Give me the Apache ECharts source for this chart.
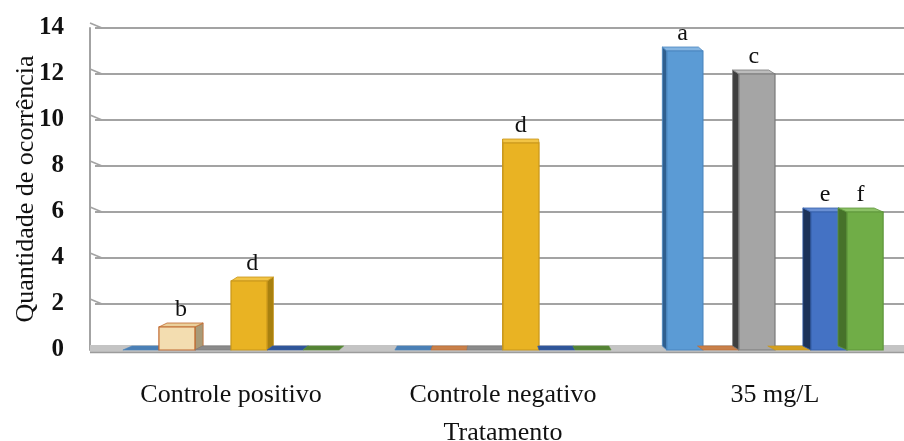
<!DOCTYPE html>
<html>
<head>
<meta charset="utf-8">
<script src="https://cdn.jsdelivr.net/npm/echarts@6/dist/echarts.min.js"></script>
<style>
  html, body { margin: 0; padding: 0; background: #ffffff; }
  #chart { width: 904px; height: 441px; }
</style>
</head>
<body>
<div id="chart"></div>
<script>
// Treatment groups on the x axis
const categories = ['Controle positivo', 'Controle negativo', '35 mg/L'];

// Occurrence counts per letter (one series per letter)
const seriesLetters = ['a', 'b', 'c', 'd', 'e', 'f'];
const valuesA = [0, 0, 13];
const valuesB = [1, 0, 0];
const valuesC = [0, 0, 12];
const valuesD = [3, 9, 0];
const valuesE = [0, 0, 6];
const valuesF = [0, 0, 6];

// Value axis ticks
const yMin = 0;
const yMax = 14;
const yStep = 2;

const FONT = '"Liberation Serif", "Times New Roman", serif';

// Face colours for the pseudo-3D columns: front, side, top, edge, floor strip
const palette = [
  { front: '#5b9bd5', side: '#2f5f8f', top: '#86b6e2', edge: '#4a86c0', strip: '#4a7fb5' },
  { front: '#f3ddb0', side: '#a89a78', top: '#ead09c', edge: '#c0682e', strip: '#c8804a' },
  { front: '#a5a5a5', side: '#3f3f3f', top: '#bcbcbc', edge: '#7a7a7a', strip: '#8a8a8a' },
  { front: '#e9b323', side: '#a8800f', top: '#f2c445', edge: '#c8961a', strip: '#d4a020' },
  { front: '#4472c4', side: '#1c3259', top: '#6a90d4', edge: '#3560ab', strip: '#2f5597' },
  { front: '#70ad47', side: '#46722a', top: '#8cc266', edge: '#5e963a', strip: '#548235' }
];

const allValues = [valuesA, valuesB, valuesC, valuesD, valuesE, valuesF];

// Fraction of a category band taken by one column
const SLOT_FRACTION = 0.1325;
const DEPTH_Y = -4;
const PERSPECTIVE = 0.025;

function columnRenderer(idx) {
  const col = palette[idx];
  const letter = seriesLetters[idx];
  return function (params, api) {
    const cat = api.value(0);
    const val = api.value(1);
    const base = api.coord([cat, 0]);
    const topPt = api.coord([cat, val]);
    const band = api.size([1, 0])[0];
    const slot = band * SLOT_FRACTION;
    const x0 = base[0] + (idx - 3) * slot;
    const x1 = x0 + slot;
    const cx = (x0 + x1) / 2;
    const cs = params.coordSys;
    const vanishX = cs.x + cs.width / 2;
    const dx = (vanishX - cx) * PERSPECTIVE;
    const dy = DEPTH_Y;
    const yb = base[1];
    const yt = topPt[1];

    if (val === 0) {
      return {
        type: 'polygon',
        shape: { points: [[x0, yb], [x1, yb], [x1 + dx, yb + dy], [x0 + dx, yb + dy]] },
        style: { fill: col.strip, stroke: col.edge, lineWidth: 0.6 }
      };
    }

    const ex = dx >= 0 ? x1 : x0;
    const children = [
      {
        type: 'polygon',
        shape: { points: [[ex, yt], [ex + dx, yt + dy], [ex + dx, yb + dy], [ex, yb]] },
        style: { fill: col.side, stroke: col.edge, lineWidth: 0.8 }
      },
      {
        type: 'polygon',
        shape: { points: [[x0, yt], [x1, yt], [x1 + dx, yt + dy], [x0 + dx, yt + dy]] },
        style: { fill: col.top, stroke: col.edge, lineWidth: 0.8 }
      },
      {
        type: 'rect',
        shape: { x: x0, y: yt, width: slot, height: yb - yt },
        style: { fill: col.front, stroke: col.edge, lineWidth: 1.2 }
      },
      {
        type: 'text',
        style: {
          text: letter,
          x: cx + dx / 2,
          y: yt + dy - 1,
          textAlign: 'center',
          textVerticalAlign: 'bottom',
          fill: '#111111',
          font: '24px ' + FONT
        }
      }
    ];
    return { type: 'group', children: children };
  };
}

// Floor band and the slanted joins of the gridlines into the back wall
function floorRenderer(params, api) {
  const cs = params.coordSys;
  const wallX = cs.x - 5;
  const base = api.coord([0, yMin]);
  const yb = base[1];
  const children = [
    {
      type: 'polygon',
      shape: { points: [[wallX, yb - 5], [cs.x + cs.width, yb - 5], [cs.x + cs.width, yb + 3], [wallX, yb + 3]] },
      style: { fill: '#c4c4c4' }
    },
    {
      type: 'line',
      shape: { x1: wallX, y1: yb + 2.5, x2: cs.x + cs.width, y2: yb + 2.5 },
      style: { stroke: '#9c9c9c', lineWidth: 1.5 }
    }
  ];
  for (let v = yMin + yStep; v <= yMax; v += yStep) {
    const p = api.coord([0, v]);
    children.push({
      type: 'line',
      shape: { x1: wallX, y1: p[1] - 5, x2: cs.x + 7, y2: p[1] },
      style: { stroke: '#a3a3a3', lineWidth: 1.6 }
    });
  }
  return { type: 'group', children: children };
}

const columnSeries = seriesLetters.map(function (letter, idx) {
  return {
    name: letter,
    type: 'custom',
    renderItem: columnRenderer(idx),
    encode: { x: 0, y: 1 },
    clip: false,
    z: 3,
    data: allValues[idx].map(function (v, i) { return [i, v]; })
  };
});

const chart = echarts.init(document.getElementById('chart'), null, { renderer: 'canvas' });

chart.setOption({
  backgroundColor: '#ffffff',
  animation: false,
  grid: { left: 95, top: 28, width: 816, bottom: 91, outerBoundsMode: 'none', containLabel: false },
  xAxis: {
    type: 'category',
    data: categories,
    name: 'Tratamento',
    nameLocation: 'middle',
    nameGap: 70,
    nameMoveOverlap: false,
    nameTextStyle: { fontFamily: FONT, fontSize: 26, color: '#111111' },
    axisLine: { show: false },
    axisTick: { show: false },
    axisLabel: { margin: 32, fontFamily: FONT, fontSize: 26, color: '#111111' },
    splitLine: { show: false }
  },
  yAxis: {
    type: 'value',
    min: yMin,
    max: yMax,
    interval: yStep,
    offset: 5,
    name: 'Quantidade de ocorrência',
    nameLocation: 'middle',
    nameGap: 51,
    nameMoveOverlap: false,
    nameRotate: 90,
    nameTextStyle: { fontFamily: FONT, fontSize: 26, color: '#111111' },
    axisLine: { show: true, lineStyle: { color: '#a3a3a3', width: 2 } },
    axisTick: { show: false },
    axisLabel: { margin: 26, fontFamily: FONT, fontSize: 25, fontWeight: 'bold', color: '#111111' },
    splitLine: { show: true, lineStyle: { color: '#a3a3a3', width: 2 } }
  },
  series: [
    {
      name: 'floor',
      type: 'custom',
      renderItem: floorRenderer,
      encode: { x: 0, y: 1 },
      clip: false,
      z: 1,
      silent: true,
      data: [[0, 0]]
    }
  ].concat(columnSeries)
});
</script>
</body>
</html>
